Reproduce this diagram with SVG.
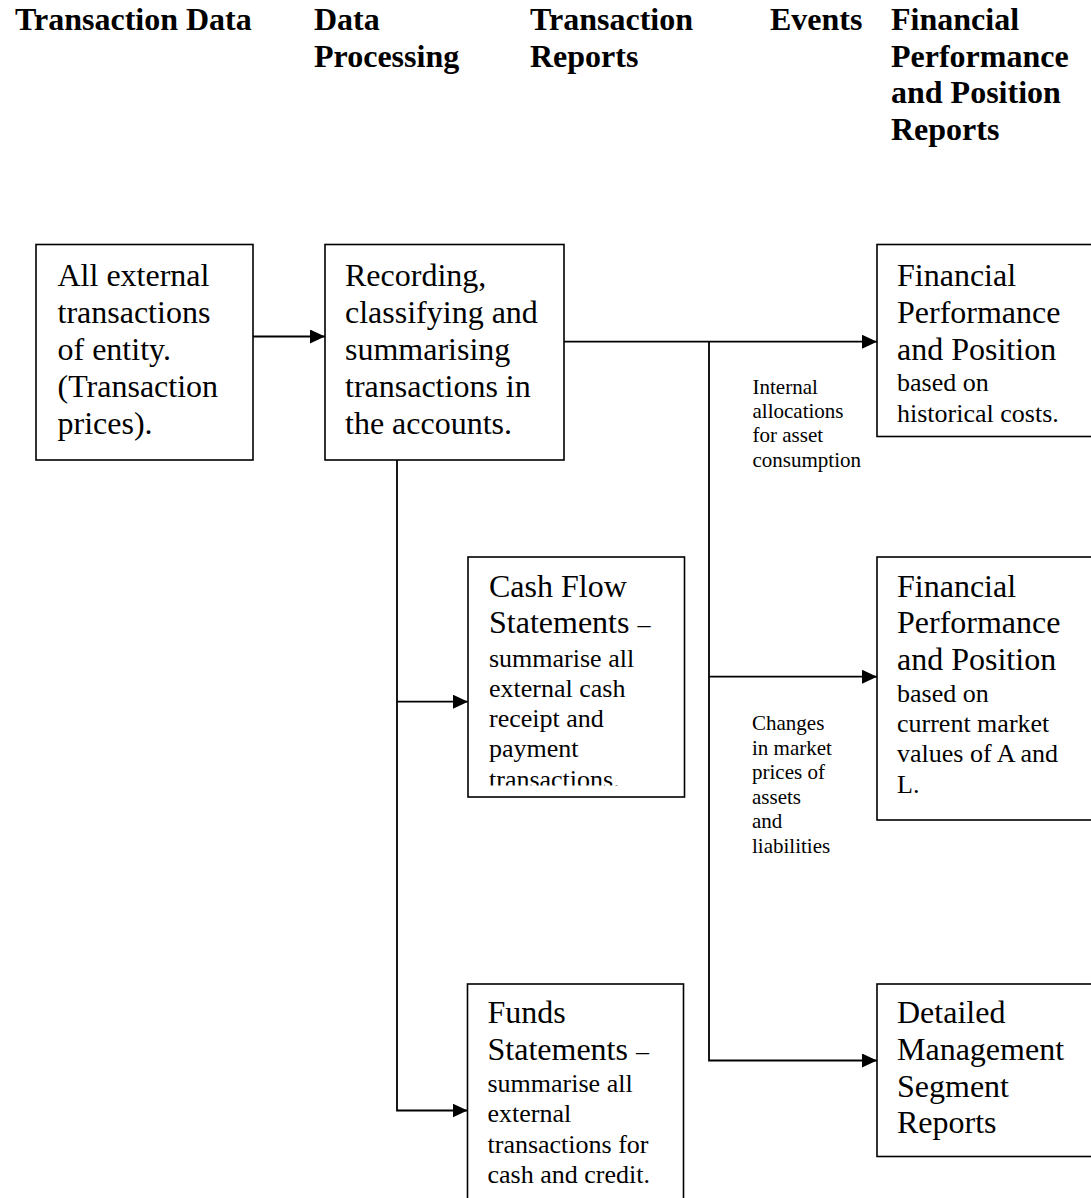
<svg xmlns="http://www.w3.org/2000/svg" width="1091" height="1198" viewBox="0 0 1091 1198">
<style>
.hd{font-family:"Liberation Serif","Times New Roman",serif;font-weight:bold;font-size:32px;fill:#000}
.bx{fill:#fff;stroke:#000;stroke-width:1.6}
.big{font-family:"Liberation Serif","Times New Roman",serif;font-size:32px;fill:#000}
.sm{font-family:"Liberation Serif","Times New Roman",serif;font-size:26px;fill:#000}
.lb{font-family:"Liberation Serif","Times New Roman",serif;font-size:21px;fill:#000}
.cn{fill:none;stroke:#000;stroke-width:1.8}
</style>
<defs>
<marker id="ah" markerUnits="userSpaceOnUse" markerWidth="15" markerHeight="14" refX="15" refY="7" orient="auto">
<path d="M0,0 L15,7 L0,14 z" fill="#000"/>
</marker>
<clipPath id="clip3"><rect x="468" y="557" width="217" height="228.5"/></clipPath>
</defs>
<rect width="1091" height="1198" fill="#fff"/>
<g id="headers">
<text class="hd" x="15" y="30">Transaction Data</text>
<text class="hd" x="314" y="30">Data</text>
<text class="hd" x="314" y="66.5">Processing</text>
<text class="hd" x="530" y="30">Transaction</text>
<text class="hd" x="530" y="66.5">Reports</text>
<text class="hd" x="770" y="30">Events</text>
<text class="hd" x="891" y="30">Financial</text>
<text class="hd" x="891" y="66.5">Performance</text>
<text class="hd" x="891" y="103">and Position</text>
<text class="hd" x="891" y="139.5">Reports</text>
</g>
<g id="connectors">
<line class="cn" x1="253" y1="336.5" x2="325" y2="336.5" marker-end="url(#ah)"/>
<line class="cn" x1="564" y1="341.7" x2="877" y2="341.7" marker-end="url(#ah)"/>
<polyline class="cn" points="709,341.7 709,1060.5 877,1060.5" marker-end="url(#ah)"/>
<line class="cn" x1="709" y1="676.7" x2="877" y2="676.7" marker-end="url(#ah)"/>
<polyline class="cn" points="397,460 397,1110.5 467.5,1110.5" marker-end="url(#ah)"/>
<line class="cn" x1="397" y1="701.7" x2="468" y2="701.7" marker-end="url(#ah)"/>
</g>
<g id="label-internal">
<text class="lb" x="752.5" y="394">Internal</text>
<text class="lb" x="752.5" y="418">allocations</text>
<text class="lb" x="752.5" y="442">for asset</text>
<text class="lb" x="752.5" y="466.5">consumption</text>
</g>
<g id="label-changes">
<text class="lb" x="752" y="730">Changes</text>
<text class="lb" x="752" y="754.5">in market</text>
<text class="lb" x="752" y="779">prices of</text>
<text class="lb" x="752" y="803.5">assets</text>
<text class="lb" x="752" y="828">and</text>
<text class="lb" x="752" y="852.5">liabilities</text>
</g>
<g id="n-transactions">
<rect class="bx" x="36" y="244.5" width="217" height="215.5"/>
<text class="big" x="57.5" y="286">All external</text>
<text class="big" x="57.5" y="323">transactions</text>
<text class="big" x="57.5" y="360">of entity.</text>
<text class="big" x="57.5" y="397">(Transaction</text>
<text class="big" x="57.5" y="434">prices).</text>
</g>
<g id="n-processing">
<rect class="bx" x="325" y="244.5" width="239" height="215.5"/>
<text class="big" x="345" y="286">Recording,</text>
<text class="big" x="345" y="323">classifying and</text>
<text class="big" x="345" y="360">summarising</text>
<text class="big" x="345" y="397">transactions in</text>
<text class="big" x="345" y="434">the accounts.</text>
</g>
<g id="n-cashflow">
<rect class="bx" x="468" y="557" width="216.5" height="240"/>
<text class="big" x="489" y="596.7">Cash Flow</text>
<text class="big" x="489" y="633.3">Statements <tspan class="sm">–</tspan></text>
<text class="sm" x="489" y="667">summarise all</text>
<text class="sm" x="489" y="697">external cash</text>
<text class="sm" x="489" y="727">receipt and</text>
<text class="sm" x="489" y="757">payment</text>
<text class="sm" x="489" y="787.5" clip-path="url(#clip3)">transactions.</text>
</g>
<g id="n-funds">
<rect class="bx" x="467.5" y="984" width="216" height="240"/>
<text class="big" x="487.5" y="1023.3">Funds</text>
<text class="big" x="487.5" y="1060">Statements <tspan class="sm">–</tspan></text>
<text class="sm" x="487.5" y="1091.7">summarise all</text>
<text class="sm" x="487.5" y="1121.7">external</text>
<text class="sm" x="487.5" y="1153.3">transactions for</text>
<text class="sm" x="487.5" y="1183.3">cash and credit.</text>
</g>
<g id="n-historical">
<rect class="bx" x="877" y="244.5" width="230" height="192"/>
<text class="big" x="897" y="286">Financial</text>
<text class="big" x="897" y="323">Performance</text>
<text class="big" x="897" y="360">and Position</text>
<text class="sm" x="897" y="391">based on</text>
<text class="sm" x="897" y="422">historical costs.</text>
</g>
<g id="n-market">
<rect class="bx" x="877" y="557" width="230" height="263"/>
<text class="big" x="897" y="596.7">Financial</text>
<text class="big" x="897" y="633.3">Performance</text>
<text class="big" x="897" y="670">and Position</text>
<text class="sm" x="897" y="701.7">based on</text>
<text class="sm" x="897" y="731.7">current market</text>
<text class="sm" x="897" y="761.7">values of A and</text>
<text class="sm" x="897" y="792.7">L.</text>
</g>
<g id="n-segment">
<rect class="bx" x="877" y="984" width="230" height="172.5"/>
<text class="big" x="897" y="1023.3">Detailed</text>
<text class="big" x="897" y="1060">Management</text>
<text class="big" x="897" y="1096.7">Segment</text>
<text class="big" x="897" y="1133.3">Reports</text>
</g>
</svg>
